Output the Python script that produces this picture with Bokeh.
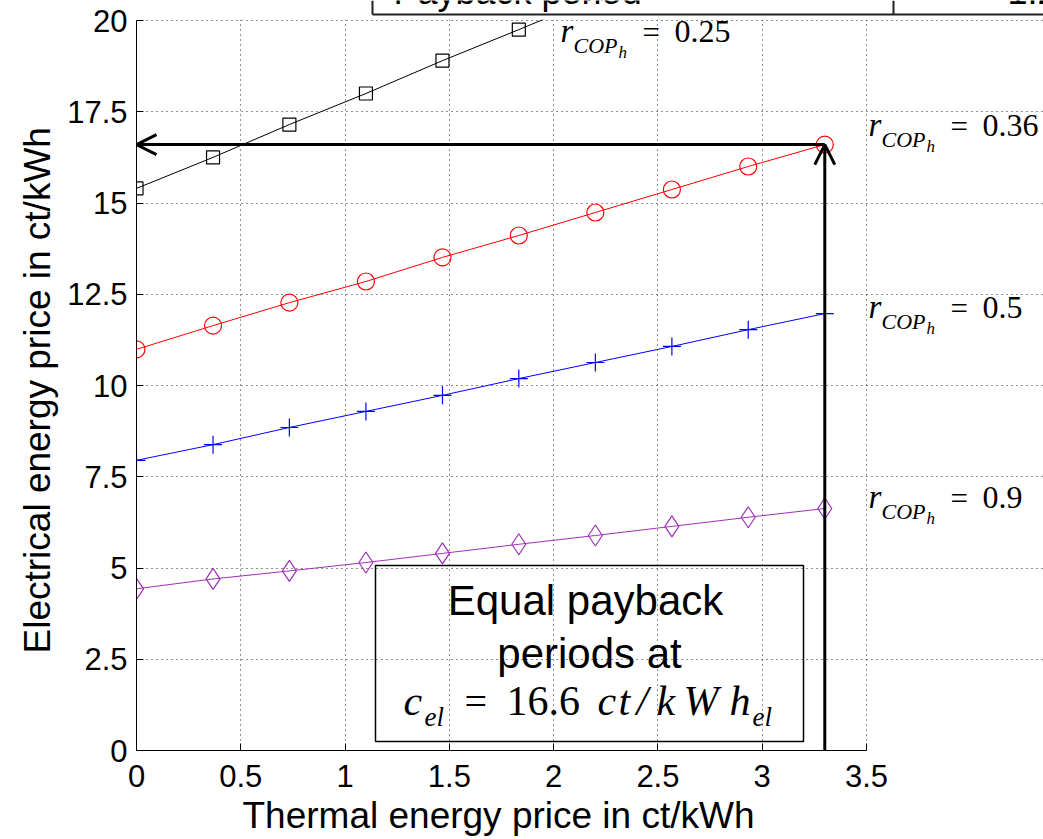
from bokeh.plotting import figure
from bokeh.models import Range1d, FixedTicker, Label, Arrow, OpenHead, BoxAnnotation, Title
from bokeh.embed import file_html
from bokeh.resources import INLINE

# ---------------- data ----------------
thermal_price = [0.0, 0.367, 0.733, 1.1, 1.467, 1.833, 2.2, 2.567, 2.933, 3.3]
el_price_r025 = [15.40, 16.25, 17.15, 18.00, 18.90, 19.75, 20.62, 21.50, 22.40, 23.25]
el_price_r036 = [10.99, 11.64, 12.27, 12.85, 13.51, 14.11, 14.74, 15.37, 16.00, 16.60]
el_price_r05 = [7.95, 8.38, 8.85, 9.29, 9.73, 10.19, 10.63, 11.07, 11.53, 11.97]
el_price_r09 = [4.43, 4.70, 4.92, 5.15, 5.40, 5.65, 5.89, 6.14, 6.39, 6.63]
ratio_labels = ["0.25", "0.36", "0.5", "0.9"]
equal_el_price = 16.6

x_ticks = [0, 0.5, 1, 1.5, 2, 2.5, 3, 3.5]
x_tick_labels = ["0", "0.5", "1", "1.5", "2", "2.5", "3", "3.5"]
y_ticks = [0, 2.5, 5, 7.5, 10, 12.5, 15, 17.5, 20]
y_tick_labels = ["0", "2.5", "5", "7.5", "10", "12.5", "15", "17.5", "20"]

# ---------------- layout helpers (page px -> data) ----------------
W, H = 1043, 839
L, T, FW, FH = 136, 20, 730, 730          # axes box (0..3.5, 0..20) on the page
XMAX, YMAX = 3.5, 20.0
BOTTOM = T + FH


def dx(px):
    return (px - L) / FW * XMAX


def dy(py):
    return (BOTTOM - py) / FH * YMAX


SANS = "Liberation Sans"
SERIF = "Liberation Serif"


def text_at(px, baseline_py, text, size, font=SERIF, style="normal", align="left"):
    """Label whose alphabetic baseline lands at page y = baseline_py."""
    return Label(x=dx(px), y=dy(baseline_py - 0.4 * size), text=text, text_font=font,
                 text_font_style=style, text_font_size=f"{size}px", text_align=align,
                 text_baseline="alphabetic", text_color="black")


# the frame is extended to the right and top page edges so that the
# curve labels and the table fragment can be drawn; axes/grid are bounded to the data box
p = figure(frame_width=W - L, frame_height=BOTTOM, x_range=Range1d(0, dx(W)),
           y_range=Range1d(0, dy(0)), output_backend="svg", toolbar_location=None,
           min_border_left=L, min_border_right=0, min_border_top=0,
           min_border_bottom=H - BOTTOM)
p.outline_line_color = None
p.background_fill_color = "white"
p.border_fill_color = "white"

for ax in (p.xaxis[0], p.yaxis[0]):
    ax.axis_line_color = "black"
    ax.axis_line_width = 1
    ax.major_tick_in = 7
    ax.major_tick_out = 0
    ax.minor_tick_line_color = None
    ax.major_tick_line_color = "black"
    ax.major_label_text_font = SANS
    ax.major_label_text_font_size = "31px"
    ax.major_label_text_color = "black"

p.xaxis.bounds = (0, XMAX)
p.yaxis.bounds = (0, YMAX)
p.xaxis.ticker = FixedTicker(ticks=x_ticks)
p.xaxis.major_label_overrides = {t: s for t, s in zip(x_ticks, x_tick_labels)}
p.yaxis.ticker = FixedTicker(ticks=y_ticks)
p.yaxis.major_label_overrides = {t: s for t, s in zip(y_ticks, y_tick_labels)}
p.xaxis.major_label_standoff = 14
p.yaxis.major_label_standoff = 9

# axis titles (placed relative to the axes box, not to the extended frame)
p.add_layout(Title(text="Thermal energy price in ct/kWh", align="left", offset=106,
                   text_font=SANS, text_font_size="37px", text_font_style="normal",
                   text_color="black", vertical_align="top"), "below")
p.add_layout(Title(text="Electrical energy price in ct/kWh", align="left", offset=97,
                   text_font=SANS, text_font_size="37px", text_font_style="normal",
                   text_color="black", vertical_align="top"), "left")

p.xgrid.bounds = (0, YMAX)
p.ygrid.bounds = (0, XMAX)
for g in (p.xgrid[0], p.ygrid[0]):
    g.grid_line_color = "#222222"
    g.grid_line_dash = "1 4"
    g.grid_line_width = 1

series = [
    (el_price_r025, "black", "square", 13),
    (el_price_r036, "#ff0000", "circle", 17),
    (el_price_r05, "#0000ff", "cross", 18),
    (el_price_r09, "#a030b8", "diamond", 21),
]
for vals, col, mk, sz in series:
    p.line(thermal_price, vals, line_color=col, line_width=1)
    p.scatter(thermal_price, vals, marker=mk, size=sz, fill_color=None,
              line_color=col, line_width=1.2)

# white mask above the axes box (curves are clipped at the top of the axes)
p.quad(left=0, right=dx(W), bottom=YMAX + 0.02, top=dy(0), fill_color="white",
       line_color=None)

# ---------------- table fragment at top ----------------
p.line([dx(372), dx(W)], [dy(14), dy(14)], line_color="#222222", line_width=2)
p.line([dx(372), dx(372)], [dy(14), dy(0)], line_color="#222222", line_width=2)
p.line([dx(893), dx(893)], [dy(14), dy(0)], line_color="#222222", line_width=2)
p.add_layout(text_at(393, 5, "Payback period", 36, font=SANS))
p.add_layout(text_at(1007, 5, "1.2", 36, font=SANS))

# ---------------- arrows ----------------
x_eq = thermal_price[-1]
p.add_layout(Arrow(end=OpenHead(size=20, line_width=3, line_color="black"),
                   x_start=x_eq, y_start=equal_el_price, x_end=0, y_end=equal_el_price,
                   line_width=3, line_color="black"))
p.add_layout(Arrow(end=OpenHead(size=20, line_width=3, line_color="black"),
                   x_start=x_eq, y_start=0, x_end=x_eq, y_end=equal_el_price,
                   line_width=3, line_color="black"))

# ---------------- curve labels r_COPh = ... ----------------
label_pos = [(560, 44), (868, 138), (868, 320), (868, 510)]
for txt, (x0, yb) in zip(ratio_labels, label_pos):
    p.add_layout(text_at(x0, yb, "r", 33, style="italic"))
    p.add_layout(text_at(x0 + 13, yb + 10, "COP", 22, style="italic"))
    p.add_layout(text_at(x0 + 58, yb + 15, "h", 17, style="italic"))
    p.add_layout(text_at(x0 + 82, yb, "=", 31))
    p.add_layout(text_at(x0 + 114, yb, txt, 32))

# ---------------- text box ----------------
p.add_layout(BoxAnnotation(left=dx(375), right=dx(803), top=dy(565), bottom=dy(741),
                           fill_alpha=0, fill_color=None, line_color="black", line_alpha=1,
                           line_width=1.5))
p.add_layout(text_at(585, 617, "Equal payback", 42, font=SANS, align="center"))
p.add_layout(text_at(589, 670, "periods at", 42, font=SANS, align="center"))
math_parts = [
    ("c", 403, 717, "italic", 42), ("el", 424, 727, "italic", 27), ("=", 464, 717, "normal", 40),
    ("16.6", 506, 717, "normal", 42), ("c", 597, 717, "italic", 42), ("t", 618, 717, "italic", 42),
    ("/", 636, 717, "italic", 42), ("k", 656, 717, "italic", 42), ("W", 683, 717, "italic", 42),
    ("h", 729, 717, "italic", 42), ("el", 752, 727, "italic", 27),
]
for txt, px, py, st, fs in math_parts:
    p.add_layout(text_at(px, py, txt, fs, style=st))

open("out.html", "w").write(file_html(p, INLINE))
